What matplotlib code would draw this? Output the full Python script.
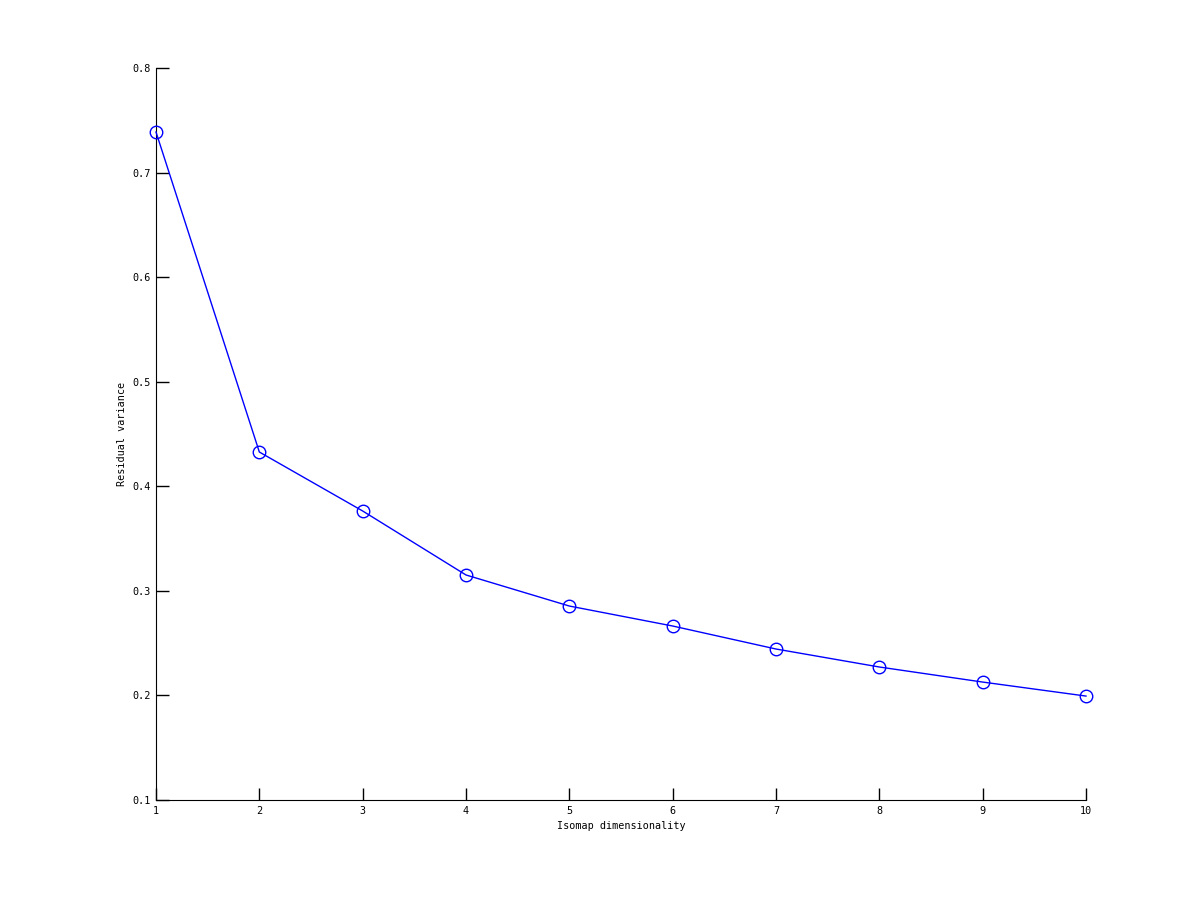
import matplotlib
matplotlib.use("Agg")
import matplotlib.pyplot as plt

# isomap residual variance per embedding dimension
dims = [1, 2, 3, 4, 5, 6, 7, 8, 9, 10]
residual = [0.7388, 0.4328, 0.3764, 0.3152, 0.2855, 0.2664, 0.2444, 0.2272, 0.2128, 0.1994]
yticks = [0.1, 0.2, 0.3, 0.4, 0.5, 0.6, 0.7, 0.8]

plt.rcParams['font.family'] = ['DejaVu Sans Mono']
plt.rcParams['font.size'] = 7.3

fig = plt.figure(figsize=(12, 9), dpi=100)
ax = fig.add_axes([0.13, 0.1111, 0.775, 0.8133])

ax.plot(dims, residual, color='blue', linewidth=1, marker='o', markersize=9,
        markerfacecolor='none', markeredgecolor='blue', markeredgewidth=1,
        clip_on=False, zorder=3)

ax.set_xlim(1, 10)
ax.set_ylim(0.1, 0.8)
ax.set_xticks(dims)
ax.set_yticks(yticks)
ax.set_yticklabels([f"{v:g}" for v in yticks])

ax.spines['top'].set_visible(False)
ax.spines['right'].set_visible(False)
ax.tick_params(direction='in', length=9, width=1, pad=4)

ax.set_xlabel('Isomap dimensionality')
ax.set_ylabel('Residual variance')

fig.savefig('out.png', dpi=100)
